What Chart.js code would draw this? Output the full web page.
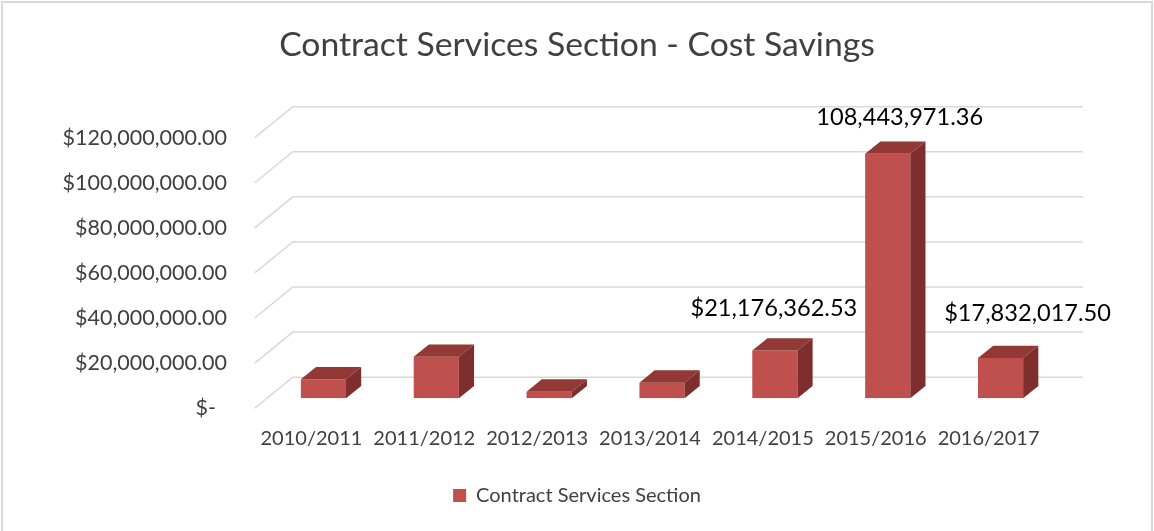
<!DOCTYPE html>
<html lang="en">

<head>
    <meta charset="UTF-8">
    <title>Contract Services Section - Cost Savings</title>
    <script src="https://cdn.jsdelivr.net/npm/chart.js"></script>
    <style>
        body {
            margin: 0;
            background: #fff;
        }

        .chart-box {
            position: relative;
            width: 1154px;
            height: 531px;
        }
    </style>
</head>

<body>
    <div class="chart-box">
        <canvas id="myChart"></canvas>
    </div>
    <script>
        // data
        const categories = ['2010/2011', '2011/2012', '2012/2013', '2013/2014', '2014/2015', '2015/2016', '2016/2017'];
        const savings = [8400000, 18400000, 2900000, 6900000, 21176362.53, 108443971.36, 17832017.50];
        const valueLabels = ['', '', '', '', '$21,176,362.53', '108,443,971.36', '$17,832,017.50'];
        const yTickLabels = ['$-  ', '$20,000,000.00', '$40,000,000.00', '$60,000,000.00',
            '$80,000,000.00', '$100,000,000.00', '$120,000,000.00'];

        const textColor = '#404040';
        const gridColor = '#d9d9d9';

        // fake 3d: offsets of the front edge, back wall and bar depth from the bar plane
        const front = { x: -12.2, y: 9.9 };
        const back = { x: 25.8, y: -21.1 };
        const barDepth = { x: 15.2, y: -12.4 };

        const threeD = {
            id: 'threeD',
            beforeDraw(chart) {
                const ctx = chart.ctx;
                ctx.save();
                ctx.fillStyle = '#fff';
                ctx.fillRect(0, 0, chart.width, chart.height);
                ctx.strokeStyle = gridColor;
                ctx.lineWidth = 2;
                ctx.strokeRect(2, 2, chart.width - 4, chart.height + 10);
                ctx.restore();
            },
            beforeDatasetsDraw(chart) {
                const ctx = chart.ctx;
                const area = chart.chartArea;
                const yScale = chart.scales.y;
                ctx.save();
                ctx.strokeStyle = gridColor;
                ctx.lineWidth = 1.5;
                yScale.ticks.forEach(t => {
                    const y = yScale.getPixelForValue(t.value);
                    ctx.beginPath();
                    ctx.moveTo(area.left + front.x, y + front.y);
                    ctx.lineTo(area.left + back.x, y + back.y);
                    ctx.lineTo(area.right + back.x, y + back.y);
                    ctx.stroke();
                });
                ctx.restore();
            },
            afterDatasetsDraw(chart, args, opts) {
                const ctx = chart.ctx;
                const meta = chart.getDatasetMeta(0);
                ctx.save();
                meta.data.forEach((bar, i) => {
                    const l = bar.x - bar.width / 2;
                    const r = bar.x + bar.width / 2;
                    const top = bar.y;
                    const base = bar.base;
                    // top face
                    ctx.fillStyle = '#923835';
                    ctx.beginPath();
                    ctx.moveTo(l, top);
                    ctx.lineTo(l + barDepth.x, top + barDepth.y);
                    ctx.lineTo(r + barDepth.x, top + barDepth.y);
                    ctx.lineTo(r, top);
                    ctx.closePath();
                    ctx.fill();
                    // side face
                    ctx.fillStyle = '#7e2f2d';
                    ctx.beginPath();
                    ctx.moveTo(r, top);
                    ctx.lineTo(r + barDepth.x, top + barDepth.y);
                    ctx.lineTo(r + barDepth.x, base + barDepth.y);
                    ctx.lineTo(r, base);
                    ctx.closePath();
                    ctx.fill();
                });

                // value labels, nudged like in the original
                ctx.fillStyle = '#000';
                ctx.textAlign = 'center';
                ctx.textBaseline = 'middle';
                ctx.font = '23.6px Lato';
                meta.data.forEach((bar, i) => {
                    const txt = valueLabels[i];
                    if (!txt) return;
                    const n = opts.nudge[i] || { dx: 0, dy: -40 };
                    ctx.fillText(txt, bar.x + n.dx, bar.y + n.dy);
                });
                ctx.restore();
            }
        };

        const ctx = document.getElementById('myChart').getContext('2d');
        const myChart = new Chart(ctx, {
            type: 'bar',
            data: {
                labels: categories,
                datasets: [{
                    label: 'Contract Services Section',
                    data: savings,
                    backgroundColor: '#c0504d',
                    borderWidth: 0,
                    barPercentage: 0.4,
                    categoryPercentage: 1.0
                }]
            },
            options: {
                responsive: true,
                maintainAspectRatio: false,
                animation: false,
                layout: {
                    padding: { top: 0, left: 0, right: 0, bottom: 15.5 }
                },
                scales: {
                    x: {
                        grid: { display: false, drawTicks: false },
                        border: { display: false },
                        ticks: {
                            color: textColor,
                            font: { family: 'Lato', size: 20 },
                            padding: 28.7,
                            labelOffset: -12,
                            maxRotation: 0,
                            autoSkip: false
                        },
                        afterFit(scale) { scale.height = 77.2; }
                    },
                    y: {
                        min: 0,
                        max: 120000000,
                        grid: { display: false, drawTicks: false },
                        border: { display: false },
                        ticks: {
                            stepSize: 20000000,
                            color: textColor,
                            font: { family: 'Lato', size: 21.5 },
                            padding: 40,
                            labelOffset: 10,
                            callback: (v, i) => yTickLabels[i]
                        },
                        afterFit(scale) { scale.width = 267; }
                    },
                    // empty right axis only keeps room for the back wall,
                    // so title and legend stay centred on the whole chart
                    spacer: {
                        type: 'linear',
                        position: 'right',
                        grid: { display: false, drawTicks: false },
                        border: { display: false },
                        ticks: { display: false },
                        afterFit(scale) { scale.width = 97; }
                    }
                },
                plugins: {
                    title: {
                        display: true,
                        text: 'Contract Services Section - Cost Savings',
                        color: textColor,
                        font: { family: 'Lato', size: 33.7, weight: 'normal', lineHeight: 1.2 },
                        padding: { top: 24.8, bottom: 62.5 }
                    },
                    legend: {
                        position: 'bottom',
                        labels: {
                            color: textColor,
                            font: { family: 'Lato', size: 20 },
                            boxWidth: 13,
                            boxHeight: 13,
                            padding: 10
                        }
                    },
                    tooltip: { enabled: false },
                    threeD: {
                        nudge: {
                            4: { dx: -1, dy: -42 },
                            5: { dx: 12, dy: -36 },
                            6: { dx: 27, dy: -45 }
                        }
                    }
                }
            },
            plugins: [threeD]
        });
    </script>
</body>

</html>
